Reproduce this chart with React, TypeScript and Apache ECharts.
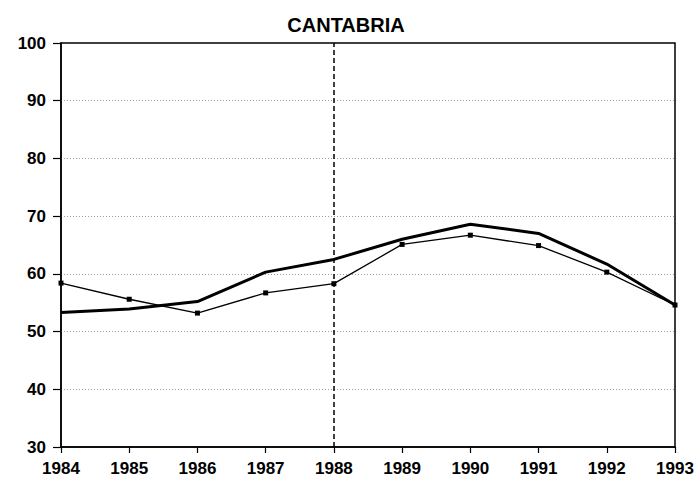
import React, { useEffect, useRef } from "react";
import * as echarts from "echarts";

const years = ["1984", "1985", "1986", "1987", "1988", "1989", "1990", "1991", "1992", "1993"];
const thickSeries = [53.3, 53.9, 55.2, 60.3, 62.5, 66.0, 68.6, 67.0, 61.7, 54.6];
const thinSeries = [58.4, 55.6, 53.2, 56.7, 58.3, 65.1, 66.7, 64.9, 60.3, 54.6];
const markYear = "1988";
const title = "CANTABRIA";

export default function App() {
  const ref = useRef<HTMLDivElement>(null);
  useEffect(() => {
    if (!ref.current) return;
    const chart = echarts.init(ref.current, null, { renderer: "svg" });
    const font = "'Liberation Sans', Arial, Helvetica, sans-serif";
    chart.setOption({
      animation: false,
      backgroundColor: "#fff",
      title: {
        text: title,
        left: 341,
        top: 10,
        textAlign: "center",
        textStyle: { fontFamily: font, fontWeight: "bold", fontSize: 20, color: "#000" },
      },
      grid: {
        left: 61,
        right: 25,
        top: 43,
        bottom: 31,
        show: true,
        borderColor: "#000",
        borderWidth: 1.5,
        backgroundColor: "transparent",
      },
      xAxis: {
        type: "category",
        data: years,
        boundaryGap: false,
        axisLine: { show: true, lineStyle: { color: "#000", width: 1.5 } },
        axisTick: { show: true, length: 6, inside: false, lineStyle: { color: "#000", width: 1.2 } },
        axisLabel: { fontFamily: font, fontWeight: "bold", fontSize: 17, color: "#000", margin: 13 },
        splitLine: { show: false },
      },
      yAxis: {
        type: "value",
        min: 30,
        max: 100,
        interval: 10,
        axisLine: { show: true, lineStyle: { color: "#000", width: 1.5 } },
        axisTick: { show: true, length: 8, lineStyle: { color: "#000", width: 1.2 } },
        axisLabel: { fontFamily: font, fontWeight: "bold", fontSize: 17, color: "#000", margin: 15 },
        splitLine: {
          show: true,
          showMinLine: false,
          showMaxLine: false,
          lineStyle: { color: "#9a9a9a", type: [1, 2], width: 1 },
        },
      },
      series: [
        {
          name: "thick",
          type: "line",
          data: thickSeries,
          symbol: "none",
          lineStyle: { color: "#000", width: 3 },
          z: 3,
        },
        {
          name: "thin",
          type: "line",
          data: thinSeries,
          symbol: "rect",
          symbolSize: 5,
          itemStyle: { color: "#000" },
          lineStyle: { color: "#000", width: 1.3 },
          z: 4,
          markLine: {
            silent: true,
            symbol: "none",
            label: { show: false },
            lineStyle: { color: "#000", type: [5, 3], width: 1.5 },
            data: [{ xAxis: markYear }],
          },
        },
      ],
    });
    return () => chart.dispose();
  }, []);
  return (
    <div
      ref={ref}
      style={{ position: "fixed", left: 0, top: 0, width: 700, height: 478, overflow: "hidden" }}
    />
  );
}
